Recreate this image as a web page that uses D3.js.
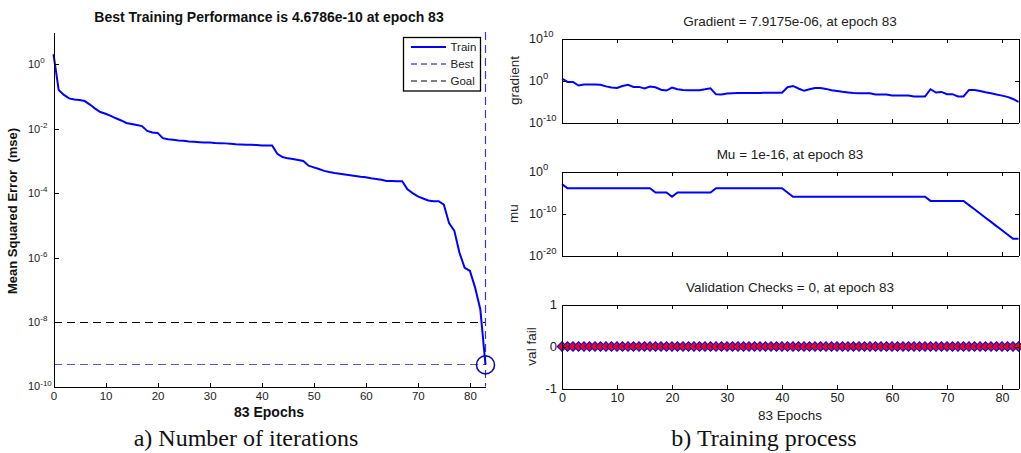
<!DOCTYPE html>
<meta charset="utf-8">
<style>

body {
  margin: 0;
  background: #fff;
}

svg {
  display: block;
  font-family: "Liberation Sans", Arial, sans-serif;
}

.axis path,
.axis line {
  fill: none;
  stroke: #000;
  shape-rendering: crispEdges;
}

.axis text {
  fill: #222;
}

.ref {
  shape-rendering: crispEdges;
}

.caption {
  font-family: "Liberation Serif", "Times New Roman", serif;
  font-size: 24px;
  fill: #111;
}

</style>
<body>

<script src="https://d3js.org/d3.v7.min.js"></script>

<script>
// epochs 0..83
var epochs = d3.range(0, 84);

// training performance (mse) per epoch
var trainPerf = [2.04, 1.58e-1, 1.12e-1, 8.7e-2, 8.1e-2, 7.8e-2, 7.2e-2, 5.6e-2, 4.2e-2, 3.3e-2,
  2.9e-2, 2.5e-2, 2.1e-2, 1.8e-2, 1.5e-2, 1.4e-2, 1.3e-2, 1.2e-2, 8.5e-3, 7.6e-3,
  7.4e-3, 5.1e-3, 4.7e-3, 4.5e-3, 4.3e-3, 4.2e-3, 4.0e-3, 3.9e-3, 3.8e-3, 3.7e-3,
  3.7e-3, 3.6e-3, 3.55e-3, 3.5e-3, 3.4e-3, 3.3e-3, 3.25e-3, 3.2e-3, 3.15e-3, 3.1e-3,
  3.0e-3, 3.0e-3, 3.0e-3, 1.66e-3, 1.32e-3, 1.2e-3, 1.15e-3, 1.07e-3, 1.0e-3, 7.1e-4,
  6.3e-4, 5.6e-4, 4.9e-4, 4.5e-4, 4.2e-4, 4.0e-4, 3.8e-4, 3.6e-4, 3.4e-4, 3.2e-4,
  3.1e-4, 2.9e-4, 2.75e-4, 2.6e-4, 2.4e-4, 2.4e-4, 2.35e-4, 2.35e-4, 1.32e-4, 1.0e-4,
  7.9e-5, 6.8e-5, 5.9e-5, 5.6e-5, 5.6e-5, 4.4e-5, 1.17e-5, 6.9e-6, 1.41e-6, 4.8e-7,
  3.9e-7, 1.17e-7, 2.5e-8, 4.6786e-10];

// gradient per epoch
var gradient = [3.0, 0.47, 0.47, 0.063, 0.11, 0.11, 0.11, 0.1, 0.04, 0.022,
  0.017, 0.05, 0.1, 0.03, 0.03, 0.0126, 0.035, 0.025, 0.0063, 0.004,
  0.02, 0.008, 0.0056, 0.005, 0.0049, 0.0049, 0.008, 0.014, 5.0e-4, 4.7e-4,
  7.9e-4, 8.9e-4, 1.0e-3, 1.1e-3, 1.1e-3, 1.1e-3, 1.1e-3, 1.25e-3, 1.25e-3, 1.25e-3,
  1.25e-3, 0.025, 0.05, 0.0126, 0.0035, 0.008, 0.017, 0.017, 0.01, 0.005,
  0.0032, 0.002, 0.0014, 1.0e-3, 9.5e-4, 9.5e-4, 9.5e-4, 4.7e-4, 4.7e-4, 4.7e-4,
  2.7e-4, 2.7e-4, 2.7e-4, 2.7e-4, 1.55e-4, 1.55e-4, 1.55e-4, 0.0085, 0.0014, 0.0019,
  5.5e-4, 5.5e-4, 1.55e-4, 1.55e-4, 0.0058, 0.0058, 0.0032, 0.0016, 8.9e-4, 4.5e-4,
  2.5e-4, 1.26e-4, 4.0e-5, 7.9175e-6];

// mu per epoch
var mu = [1e-3, 1e-4, 1e-4, 1e-4, 1e-4, 1e-4, 1e-4, 1e-4, 1e-4, 1e-4,
  1e-4, 1e-4, 1e-4, 1e-4, 1e-4, 1e-4, 1e-4, 1e-5, 1e-5, 1e-5,
  1e-6, 1e-5, 1e-5, 1e-5, 1e-5, 1e-5, 1e-5, 1e-5, 1e-4, 1e-4,
  1e-4, 1e-4, 1e-4, 1e-4, 1e-4, 1e-4, 1e-4, 1e-4, 1e-4, 1e-4,
  1e-4, 1e-5, 1e-6, 1e-6, 1e-6, 1e-6, 1e-6, 1e-6, 1e-6, 1e-6,
  1e-6, 1e-6, 1e-6, 1e-6, 1e-6, 1e-6, 1e-6, 1e-6, 1e-6, 1e-6,
  1e-6, 1e-6, 1e-6, 1e-6, 1e-6, 1e-6, 1e-6, 1e-7, 1e-7, 1e-7,
  1e-7, 1e-7, 1e-7, 1e-7, 1e-8, 1e-9, 1e-10, 1e-11, 1e-12, 1e-13,
  1e-14, 1e-15, 1e-16, 1e-16];

// validation checks per epoch
var valFail = [0, 0, 0, 0, 0, 0, 0, 0, 0, 0, 0, 0, 0, 0, 0, 0, 0, 0, 0, 0, 0,
  0, 0, 0, 0, 0, 0, 0, 0, 0, 0, 0, 0, 0, 0, 0, 0, 0, 0, 0, 0, 0,
  0, 0, 0, 0, 0, 0, 0, 0, 0, 0, 0, 0, 0, 0, 0, 0, 0, 0, 0, 0, 0,
  0, 0, 0, 0, 0, 0, 0, 0, 0, 0, 0, 0, 0, 0, 0, 0, 0, 0, 0, 0, 0];

var bestEpoch = 83,
    bestPerf = 4.6786e-10,
    goalPerf = 1e-8;

var epochTicks = [0, 10, 20, 30, 40, 50, 60, 70, 80];
var perfTicks = [1e0, 1e-2, 1e-4, 1e-6, 1e-8, 1e-10];
var perfExp = ['0', '-2', '-4', '-6', '-8', '-10'];
var gradTicks = [1e10, 1e0, 1e-10];
var gradExp = ['10', '0', '-10'];
var muTicks = [1e0, 1e-10, 1e-20];
var muExp = ['0', '-10', '-20'];
var valTicks = [1, 0, -1];

var legendItems = ['Train', 'Best', 'Goal'];

var svg = d3.select('body').append('svg')
    .attr('width', 1021)
    .attr('height', 453);

// ---------- a) performance plot ----------
var px = d3.scaleLinear().domain([0, 83]).range([53.5, 485.5]);
var py = d3.scaleLog().domain([1e-10, 10]).range([386.5, 32]);

var left = svg.append('g');

left.append('text')
    .attr('x', 269).attr('y', 22)
    .attr('text-anchor', 'middle')
    .style('font-weight', 'bold')
    .style('font-size', '14px')
    .attr('fill', '#111')
    .text('Best Training Performance is 4.6786e-10 at epoch 83');

// goal line
left.append('line')
    .attr('class', 'ref')
    .attr('x1', px(0)).attr('x2', px(83))
    .attr('y1', py(goalPerf)).attr('y2', py(goalPerf))
    .attr('stroke', '#000').attr('stroke-width', 1)
    .attr('stroke-dasharray', '8,5');

// best lines
left.append('line')
    .attr('class', 'ref')
    .attr('x1', px(0)).attr('x2', px(bestEpoch))
    .attr('y1', py(bestPerf)).attr('y2', py(bestPerf))
    .attr('stroke', '#5555d4').attr('stroke-width', 1)
    .attr('stroke-dasharray', '8,5');

left.append('line')
    .attr('x1', px(bestEpoch)).attr('x2', px(bestEpoch))
    .attr('y1', 32).attr('y2', 386.5)
    .attr('stroke', '#3434e0').attr('stroke-width', 1.2)
    .attr('stroke-dasharray', '8,5');

var trainLine = d3.line()
    .x(function(d, i) { return px(epochs[i]); })
    .y(function(d) { return py(d); });

left.append('path')
    .datum(trainPerf)
    .attr('d', trainLine)
    .attr('fill', 'none')
    .attr('stroke', '#0000ff')
    .attr('stroke-width', 2);

left.append('circle')
    .attr('cx', px(bestEpoch)).attr('cy', py(bestPerf))
    .attr('r', 9)
    .attr('fill', 'none')
    .attr('stroke', '#1010a8')
    .attr('stroke-width', 1.6);

// axes
var lxAxis = d3.axisBottom(px)
    .tickValues(epochTicks)
    .tickSizeInner(-4)
    .tickSizeOuter(0)
    .tickPadding(5);

left.append('g')
    .attr('class', 'axis')
    .attr('transform', 'translate(0,386.5)')
    .call(lxAxis)
    .selectAll('text')
    .style('font-size', '11.5px');

var lyAxis = d3.axisLeft(py)
    .tickValues(perfTicks)
    .tickSizeInner(-5)
    .tickSizeOuter(0)
    .tickFormat('');

left.append('g')
    .attr('class', 'axis')
    .attr('transform', 'translate(53.5,0)')
    .call(lyAxis);

function supLabels(g, ticks, exps, scale, x0, base, sup) {
  var t = g.selectAll(null)
      .data(ticks)
    .enter().append('text')
      .attr('x', x0)
      .attr('y', function(d) { return scale(d) + base * 0.36; })
      .style('font-size', base + 'px')
      .attr('fill', '#222');
  t.append('tspan').text('10');
  t.append('tspan')
      .attr('dy', -base * 0.45)
      .style('font-size', sup + 'px')
      .text(function(d, i) { return exps[i]; });
}

supLabels(left, perfTicks, perfExp, py, 28, 11, 8);

left.append('text')
    .attr('transform', 'translate(17,211) rotate(-90)')
    .attr('text-anchor', 'middle')
    .style('font-weight', 'bold')
    .style('font-size', '13px')
    .style('white-space', 'pre')
    .attr('fill', '#111')
    .text('Mean Squared Error  (mse)');

left.append('text')
    .attr('x', 269).attr('y', 417)
    .attr('text-anchor', 'middle')
    .style('font-weight', 'bold')
    .style('font-size', '14px')
    .attr('fill', '#111')
    .text('83 Epochs');

// legend
var legend = left.append('g').attr('transform', 'translate(403.5,37.5)');
legend.append('rect')
    .attr('width', 77).attr('height', 53.5)
    .attr('fill', '#fff').attr('stroke', '#000').attr('stroke-width', 1.3);

var li = legend.selectAll('.item')
    .data(legendItems)
  .enter().append('g')
    .attr('class', 'item')
    .attr('transform', function(d, i) { return 'translate(0,' + (9.5 + i * 17) + ')'; });

li.append('line')
    .attr('x1', 7.5).attr('x2', 42.5)
    .attr('stroke', function(d) { return d === 'Goal' ? '#000' : (d === 'Best' ? '#0000c8' : '#0000ff'); })
    .attr('stroke-width', function(d) { return d === 'Train' ? 2 : 1; })
    .attr('stroke-dasharray', function(d) { return d === 'Train' ? null : '6,4'; });

li.append('text')
    .attr('x', 47).attr('dy', '0.36em')
    .style('font-size', '11.5px')
    .attr('fill', '#222')
    .text(function(d) { return d; });

left.append('text')
    .attr('class', 'caption')
    .attr('x', 246).attr('y', 446)
    .attr('text-anchor', 'middle')
    .text('a) Number of iterations');

// ---------- b) training state panels ----------
var rx = d3.scaleLinear().domain([0, 83]).range([562, 1018.5]);

var panels = [
  {title: 'Gradient = 7.9175e-06, at epoch 83', label: 'gradient', top: 38.5, values: gradient,
    y: d3.scaleLog().domain([1e-10, 1e10]), ticks: gradTicks, exps: gradExp, labelX: 519},
  {title: 'Mu = 1e-16, at epoch 83', label: 'mu', top: 171.5, values: mu,
    y: d3.scaleLog().domain([1e-20, 1e0]), ticks: muTicks, exps: muExp, labelX: 518},
  {title: 'Validation Checks = 0, at epoch 83', label: 'val fail', top: 304.5, values: valFail,
    y: d3.scaleLinear().domain([-1, 1]), ticks: valTicks, exps: null, labelX: 536}
];

var ph = 84;

panels.forEach(function(p, k) {
  var g = svg.append('g');
  var y = p.y.range([p.top + ph, p.top]);

  g.append('text')
      .attr('x', 790).attr('y', p.top - 12.5)
      .attr('text-anchor', 'middle')
      .style('font-size', '13.5px')
      .attr('fill', '#222')
      .text(p.title);

  var line = d3.line()
      .x(function(d, i) { return rx(epochs[i]); })
      .y(function(d) { return y(d); });

  g.append('path')
      .datum(p.values)
      .attr('d', line)
      .attr('fill', 'none')
      .attr('stroke', '#0000ff')
      .attr('stroke-width', 2);

  if (k === 2) {
    g.selectAll('.dot')
        .data(p.values)
      .enter().append('path')
        .attr('class', 'dot')
        .attr('d', d3.symbol(d3.symbolSquare).size(46))
        .attr('transform', function(d, i) { return 'translate(' + rx(epochs[i]) + ',' + y(d) + ') rotate(45)'; })
        .attr('fill', '#ff0000')
        .attr('stroke', '#0000ff')
        .attr('stroke-width', 1);
  }

  var bottom = d3.axisBottom(rx).tickValues(epochTicks).tickSizeInner(-4).tickSizeOuter(0).tickPadding(5);
  if (k !== 2) bottom.tickFormat('');
  var bx = g.append('g')
      .attr('class', 'axis')
      .attr('transform', 'translate(0,' + (p.top + ph) + ')')
      .call(bottom);
  bx.selectAll('text').style('font-size', '12.5px');

  g.append('g')
      .attr('class', 'axis')
      .attr('transform', 'translate(0,' + p.top + ')')
      .call(d3.axisTop(rx).tickValues(epochTicks).tickSizeInner(-4).tickSizeOuter(0).tickFormat(''));

  g.append('g')
      .attr('class', 'axis')
      .attr('transform', 'translate(562,0)')
      .call(d3.axisLeft(y).tickValues(p.ticks).tickSizeInner(-4).tickSizeOuter(0).tickFormat(''));

  g.append('g')
      .attr('class', 'axis')
      .attr('transform', 'translate(1018.5,0)')
      .call(d3.axisRight(y).tickValues(p.ticks).tickSizeInner(-4).tickSizeOuter(0).tickFormat(''));

  if (p.exps) {
    supLabels(g, p.ticks, p.exps, y, 529, 12.5, 9.5);
  } else {
    g.selectAll(null)
        .data(p.ticks)
      .enter().append('text')
        .attr('x', 557).attr('y', function(d) { return y(d); })
        .attr('dy', '0.36em')
        .attr('text-anchor', 'end')
        .style('font-size', '13px')
        .attr('fill', '#222')
        .text(function(d) { return d; });
  }

  g.append('text')
      .attr('transform', 'translate(' + p.labelX + ',' + (p.top + ph / 2) + ') rotate(-90)')
      .attr('text-anchor', 'middle')
      .style('font-size', '13.5px')
      .attr('fill', '#222')
      .text(p.label);
});

svg.append('text')
    .attr('x', 790).attr('y', 420)
    .attr('text-anchor', 'middle')
    .style('font-size', '13.5px')
    .attr('fill', '#222')
    .text('83 Epochs');

svg.append('text')
    .attr('class', 'caption')
    .attr('x', 764).attr('y', 446)
    .attr('text-anchor', 'middle')
    .text('b) Training process');

</script>
</body>
